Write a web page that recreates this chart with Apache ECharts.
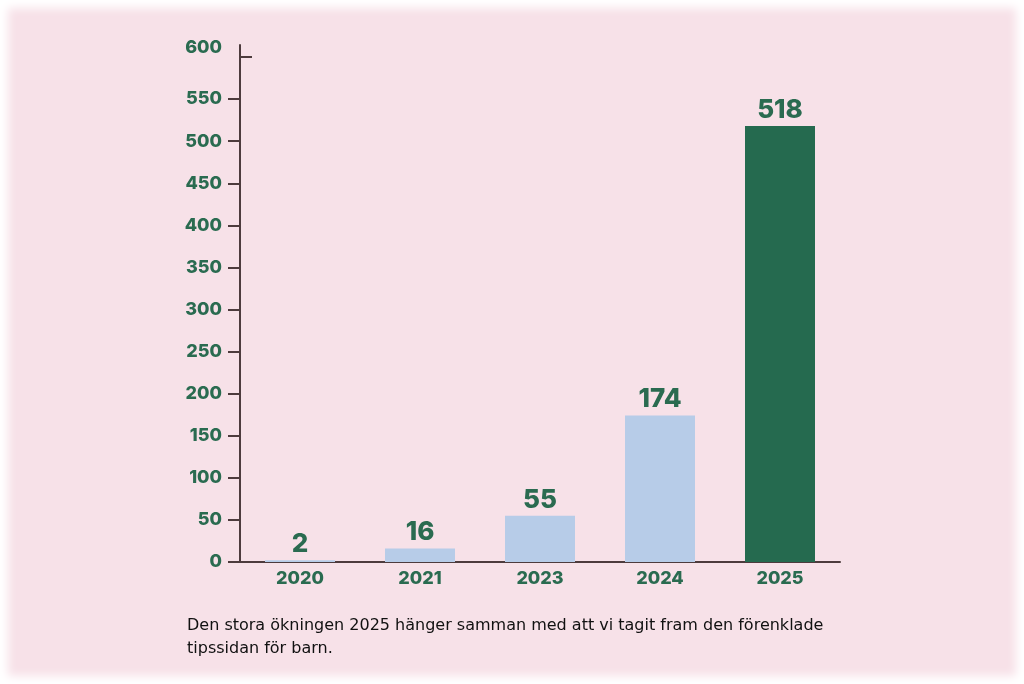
<!DOCTYPE html>
<html>
<head>
    <meta charset="utf-8">
    <script src="https://cdn.jsdelivr.net/npm/echarts@6/dist/echarts.min.js"></script>
    <style>
        html, body { margin:0; padding:0; background:#fff; }
        #wrap {
            position:absolute; left:0; top:0; width:1024px; height:684px;
            background:#f7e1e8;
            box-shadow: inset 0 0 10px 8px #ffffff;
        }
        #main { width:1024px; height:684px; }
    </style>
</head>
<body>
    <div id="wrap"><div id="main"></div></div>
    <script type="text/javascript">
        // data
        var years = ['2020', '2021', '2023', '2024', '2025'];
        var counts = [2, 16, 55, 174, 518];
        var barColors = ['#b7cce8', '#b7cce8', '#b7cce8', '#b7cce8', '#256a4f'];
        var caption = 'Den stora ökningen 2025 hänger samman med att vi tagit fram den förenklade tipssidan för barn.';

        var green = '#2a6b50';
        var axisCol = '#4d3b3d';
        var fnt = 'Inter, "DejaVu Sans", sans-serif';

        var myChart = echarts.init(document.getElementById('main'));
        var option = {
            animation: false,
            title: {
                text: caption,
                left: 182, top: 609,
                textStyle: {
                    color: '#111', fontSize: 16, fontWeight: 'normal', fontFamily: '"DejaVu Sans", sans-serif',
                    width: 680, overflow: 'break', lineHeight: 23
                }
            },
            grid: [
                { left: 240, right: 184, top: 57, bottom: 122 },
                { left: 240, right: 184, top: 45, bottom: 122 }
            ],
            xAxis: [{
                type: 'category',
                gridIndex: 0,
                data: years,
                axisLine: { lineStyle: { color: axisCol, width: 2 } },
                axisTick: { show: false },
                axisLabel: { color: green, fontSize: 18, fontWeight: 800, fontFamily: fnt, margin: 8 }
            }, {
                type: 'category', gridIndex: 1, data: years, show: false
            }],
            yAxis: [{
                type: 'value',
                gridIndex: 0,
                min: 0, max: 600, interval: 50,
                axisLine: { show: false },
                axisTick: { show: true, length: 12, lineStyle: { color: axisCol, width: 2 },
                    customValues: [0, 50, 100, 150, 200, 250, 300, 350, 400, 450, 500, 550] },
                splitLine: { show: false },
                axisLabel: {
                    color: green, fontSize: 18, fontWeight: 800, fontFamily: fnt, margin: 18,
                    formatter: function (v) { return v === 600 ? '{top|600}' : String(v); },
                    rich: { top: { color: green, fontSize: 18, fontWeight: 800, fontFamily: fnt, padding: [0, 0, 18, 0] } }
                }
            }, {
                type: 'value',
                gridIndex: 0,
                min: 0, max: 600, interval: 50,
                position: 'left',
                axisLine: { show: false },
                axisLabel: { show: false },
                splitLine: { show: false },
                axisTick: { show: true, inside: true, length: 12, lineStyle: { color: axisCol, width: 2 },
                    customValues: [600] }
            }, {
                type: 'value',
                gridIndex: 1,
                min: 0, max: 600,
                axisLine: { show: true, lineStyle: { color: axisCol, width: 2 } },
                axisTick: { show: false },
                axisLabel: { show: false },
                splitLine: { show: false }
            }],
            series: [{
                type: 'bar',
                xAxisIndex: 0, yAxisIndex: 0,
                barWidth: 70,
                data: counts.map(function (v, i) {
                    return { value: v, itemStyle: { color: barColors[i] } };
                }),
                label: {
                    show: true, position: 'top', distance: 3,
                    color: green, fontSize: 26, fontWeight: 800, fontFamily: fnt
                }
            }]
        };
        myChart.setOption(option);
    </script>
</body>
</html>
